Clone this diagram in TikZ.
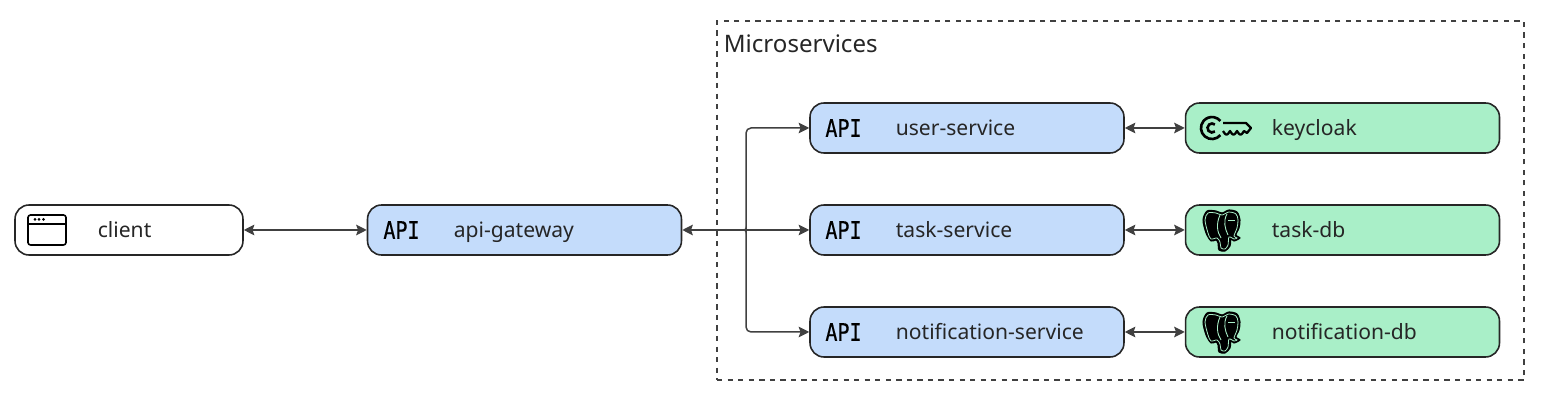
\documentclass[tikz,border=0pt]{standalone}
\usepackage{fontspec}
\usetikzlibrary{arrows.meta}
\setmainfont{Noto Sans}
\newfontfamily\apifont[FakeBold=0.5]{DejaVu Sans Mono}
\definecolor{svcblue}{HTML}{C4DCFB}
\definecolor{dbgreen}{HTML}{A9EFC8}
\definecolor{linegray}{HTML}{404040}
\definecolor{textgray}{HTML}{262626}
\tikzset{
    basebox/.style={draw=black!85, line width=.9pt, rounded corners=.28cm, minimum height=1cm, inner sep=0pt},
    clientbox/.style={basebox, fill=white, minimum width=4.56cm},
    svcbox/.style={basebox, fill=svcblue, minimum width=6.28cm},
    dbbox/.style={basebox, fill=dbgreen, minimum width=6.28cm},
    boxlabel/.style={anchor=base west, inner sep=0pt, text=textgray, font=\fontsize{12}{15}\selectfont},
    apilabel/.style={anchor=center, inner sep=0pt, yscale=1.2, font=\apifont\fontsize{11.4}{13}\selectfont},
    biarrow/.style={<->, draw=linegray, line width=.85pt},
    onearrow/.style={->, draw=linegray, line width=.85pt, rounded corners=.1cm},
    pics/browsericon/.style={code={
        \draw[line width=.9pt, rounded corners=.05cm] (-19,-15) rectangle (19,15);
        \draw[line width=.9pt] (-19,-6) -- (19,-6);
        \foreach \dotx in {-12,-8,-3.5}
            \fill (\dotx,-10.5) circle (1.5);
    }},
    pics/keyicon/.style={code={
        \draw[line width=1.5pt] (-6.6,7.1) arc (40:320:11);
        \draw[line width=1.5pt] (-12.1,3.45) arc (50:310:4.5);
        \draw[line width=1.3pt, line join=round] (-4,-5) -- (19,-5) -- (24,0) -- (20,5) -- (17,3)
            .. controls (14,8) and (13,8) .. (10,3) .. controls (7,8) and (6,8) .. (3,3)
            .. controls (0,8) and (-1,8) .. (-4,3);
    }},
    pics/pgicon/.style={code={
        \draw[fill=black, line width=.6pt] plot[smooth cycle] coordinates {(-18,-9) (-14,-18) (-5,-18) (1,-16) (8,-19) (16,-17) (19,-9) (18,-1) (15,6) (19,9) (13,12) (10,10) (9,17) (4,22) (-2,21) (-3,14) (-5,11) (-10,12) (-15,4)};
        \draw[dbgreen, line width=.45pt] plot[smooth cycle] coordinates {(-16,-9) (-13,-16) (-5,-16) (1,-14) (8,-17) (15,-15) (17,-9) (16,-1) (13,7) (16,9) (13,10) (8,8) (7,16) (4,20) (0,19) (-1,13) (-4,9) (-10,10) (-13,4)};
        \draw[dbgreen, line width=.5pt] (-1,-14) .. controls (-5,-5) and (-4,3) .. (0,9);
        \draw[dbgreen, line width=.5pt] (6,-15) .. controls (2,-8) and (4,0) .. (7,6);
        \draw[dbgreen, line width=.5pt] (7,-9) -- (14,-9);
    }}
}

\begin{document}
\begin{tikzpicture}[>={Stealth[length=6pt,width=6pt,inset=1pt]}, x=.02cm, y=-.02cm]
    \useasboundingbox (0,0) rectangle (1542,401);

    %Microservices
    \node[draw=linegray, dashed, line width=.75pt, minimum width=16.14cm, minimum height=7.18cm, inner sep=0pt] (micro) at (1120.5,200.5) {};
    \node[boxlabel, font=\fontsize{13.7}{16}\selectfont] (microlabel) at (723.5,53) {Microservices};

    %boxes
    \node[clientbox] (client) at (129,230) {};
    \node[svcbox] (gateway) at (524.5,230) {};
    \node[svcbox] (user) at (967,128) {};
    \node[svcbox] (task) at (967,230) {};
    \node[svcbox] (notif) at (967,332) {};
    \node[dbbox] (keycloak) at (1342.5,128) {};
    \node[dbbox] (taskdb) at (1342.5,230) {};
    \node[dbbox] (notifdb) at (1342.5,332) {};

    %labels
    \node[boxlabel] (clientlabel) at (97.5,238) {client};
    \node[boxlabel] (gatewaylabel) at (453.5,238) {api-gateway};
    \node[boxlabel] (userlabel) at (895.5,136) {user-service};
    \node[boxlabel] (tasklabel) at (895.5,238) {task-service};
    \node[boxlabel] (notiflabel) at (895.5,340) {notification-service};
    \node[boxlabel] (keycloaklabel) at (1271.5,136) {keycloak};
    \node[boxlabel] (taskdblabel) at (1271.5,238) {task-db};
    \node[boxlabel] (notifdblabel) at (1271.5,340) {notification-db};

    %icons
    \node[apilabel] (gatewayapi) at (401.5,230) {API};
    \node[apilabel] (userapi) at (843.5,128) {API};
    \node[apilabel] (taskapi) at (843.5,230) {API};
    \node[apilabel] (notifapi) at (843.5,332) {API};
    \pic at (47,230) {browsericon};
    \pic at (1227,128) {keyicon};
    \pic at (1221,229) {pgicon};
    \pic at (1221,331) {pgicon};

    %connectors
    \coordinate (branch) at (743,230);
    \draw[biarrow] (client) -- (gateway);
    \draw[biarrow] (gateway) -- (task);
    \draw[onearrow] (branch) .. controls (746,230) and (746,228) .. (746,226) -- (746,128) -- (user.west);
    \draw[onearrow] (branch) .. controls (746,230) and (746,232) .. (746,234) -- (746,332) -- (notif.west);
    \draw[biarrow] (user) -- (keycloak);
    \draw[biarrow] (task) -- (taskdb);
    \draw[biarrow] (notif) -- (notifdb);
\end{tikzpicture}
\end{document}
